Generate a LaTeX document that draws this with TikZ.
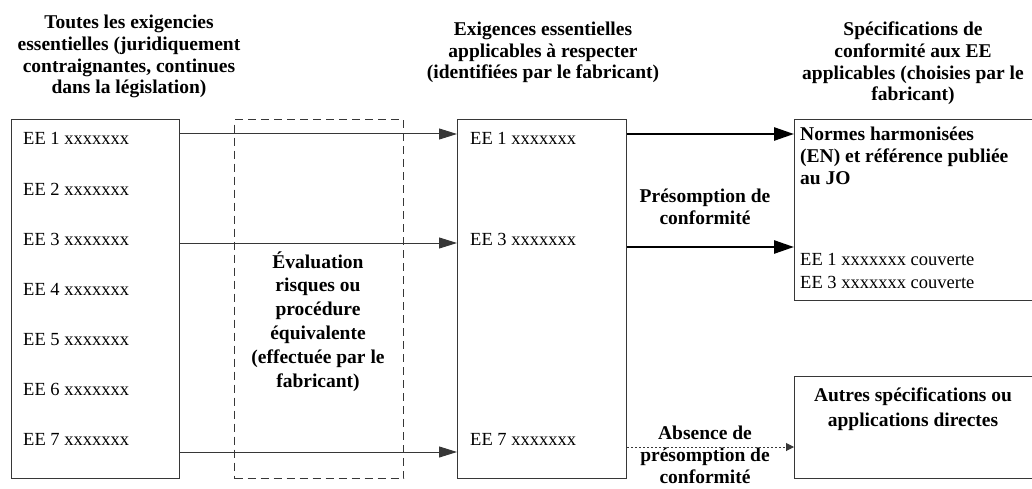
\documentclass[tikz,border=0pt]{standalone}
\usepackage{fontspec}
\setmainfont{Liberation Serif}
\usetikzlibrary{positioning,arrows.meta}
\tikzstyle{diagram} = [x = 1pt, y = -1pt]
\definecolor{lineColor}{RGB}{55,55,55}
\tikzstyle{boxStyle} = [draw=lineColor, line width=1.2pt, inner sep=0pt, anchor=north west]
\tikzstyle{dashedBoxStyle} = [boxStyle, dash pattern=on 8pt off 5pt]
\tikzstyle{titleText} = [font=\bfseries\fontsize{19.5}{21.7}\selectfont, align=center, anchor=base, inner sep=0pt]
\tikzstyle{itemText} = [font=\fontsize{18.5}{23}\selectfont, anchor=base west, inner sep=0pt]
\tikzstyle{thinArrow} = [draw=lineColor, line width=1pt, -{Triangle[length=18pt,width=11pt]}]
\tikzstyle{thickArrow} = [draw=black, line width=2.6pt, -{Triangle[length=20pt,width=13pt]}]
\tikzstyle{dottedArrow} = [draw=lineColor, line width=1pt, dash pattern=on 2pt off 2pt, -{Triangle[length=8pt,width=8pt]}]
\newcommand{\boxAt}[5]{\node [#1, minimum width=#4pt, minimum height=#5pt] (#2) at #3 {};}

\begin{document}
\begin{tikzpicture}[diagram]
  \useasboundingbox (0,0) rectangle (1032,489);

  % columns
  \boxAt{boxStyle}{leftBox}{(11,119)}{168}{359}
  \boxAt{dashedBoxStyle}{evalBox}{(234,119)}{169}{359}
  \boxAt{boxStyle}{midBox}{(457,119)}{169}{359}
  \boxAt{boxStyle}{normBox}{(794,119)}{245}{181}
  \boxAt{boxStyle}{otherBox}{(794,376)}{245}{102}

  % titles (anchored on the last line)
  \node [titleText] (leftTitle) at (129,94) {Toutes les exigencies\\essentielles (juridiquement\\contraignantes, continues\\dans la législation)};
  \node [titleText] (midTitle) at (543,79) {Exigences essentielles\\applicables à respecter\\(identifiées par le fabricant)};
  \node [titleText] (rightTitle) at (913,101) {Spécifications de\\conformité aux EE\\applicables (choisies par le\\fabricant)};

  % essential requirements
  \foreach \row in {1,...,7} {
    \pgfmathsetmacro{\var}{95 + 50 * \row}
    \node [itemText] (leftItem\row) at (23,\var) {EE \row{} xxxxxxx};
  }
  \foreach \row in {1,3,7} {
    \pgfmathsetmacro{\var}{95 + 50 * \row}
    \node [itemText] (midItem\row) at (470,\var) {EE \row{} xxxxxxx};
  }

  \node [titleText, font=\bfseries\fontsize{19.5}{23.8}\selectfont] (evalText) at (318,387) {Évaluation\\risques ou\\procédure\\équivalente\\(effectuée par le\\fabricant)};
  \node [titleText, align=left, anchor=base west] (normText) at (800,184) {Normes harmonisées\\(EN) et référence publiée\\au JO};
  \node [itemText] (coverOne) at (800,265) {EE 1 xxxxxxx couverte};
  \node [itemText] (coverThree) at (800,288) {EE 3 xxxxxxx couverte};
  \node [titleText, font=\bfseries\fontsize{19.5}{25}\selectfont] (otherText) at (913,426) {Autres spécifications ou\\applications directes};

  \node [titleText] (presumption) at (705,224) {Présomption de\\conformité};
  \node [titleText] (noPresumption) at (705,483) {Absence de\\présomption de\\conformité};

  % connectors
  \coordinate (rowOne) at (0,134);
  \coordinate (rowThree) at (0,243);
  \coordinate (rowSeven) at (0,452);
  \draw [thinArrow] (leftBox.east |- rowOne) -- (midBox.west |- rowOne);
  \draw [thinArrow] (leftBox.east |- rowThree) -- (midBox.west |- rowThree);
  \draw [thinArrow] (leftBox.east |- rowSeven) -- (midBox.west |- rowSeven);

  \coordinate (specOne) at (0,134);
  \coordinate (specThree) at (0,247);
  \coordinate (specSeven) at (0,447);
  \draw [thickArrow] (midBox.east |- specOne) -- (normBox.west |- specOne);
  \draw [thickArrow] (midBox.east |- specThree) -- (normBox.west |- specThree);
  \draw [dottedArrow] (midBox.east |- specSeven) -- (otherBox.west |- specSeven);
\end{tikzpicture}
\end{document}
